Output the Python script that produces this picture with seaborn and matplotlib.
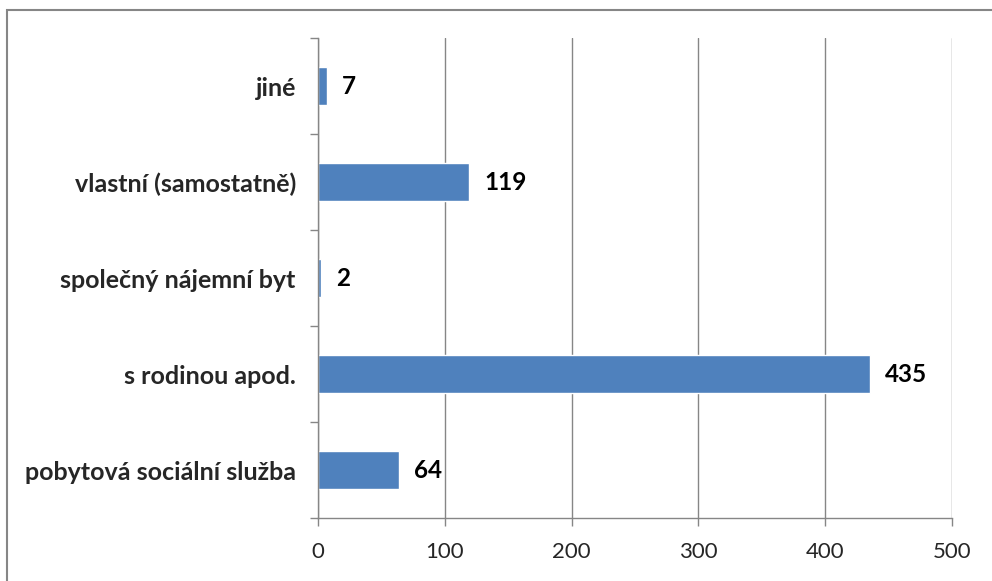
import matplotlib.pyplot as plt
import matplotlib.patches as mpatches
from matplotlib.ticker import FixedLocator, MultipleLocator
import seaborn as sns
import pandas as pd

categories = ["jiné", "vlastní (samostatně)", "společný nájemní byt",
              "s rodinou apod.", "pobytová sociální služba"]
values = [7, 119, 2, 435, 64]

bar_color = "#4F81BD"
grid_color = "#868686"

sns.set_theme(style="white")
plt.rcParams["font.family"] = ["Lato", "DejaVu Sans"]

df = pd.DataFrame({"kategorie": categories, "pocet": values})

fig = plt.figure(figsize=(9.92, 5.81), dpi=100)
ax = fig.add_axes([318 / 992, 1 - 518 / 581, (952 - 318) / 992, (518 - 38) / 581])

sns.barplot(data=df, x="pocet", y="kategorie", orient="h", color=bar_color,
            width=0.39, saturation=1, ax=ax)

ax.set_xlim(0, 500)
ax.set_ylim(4.5, -0.5)
ax.xaxis.set_major_locator(MultipleLocator(100))
ax.grid(axis="x", color=grid_color, linewidth=1)
ax.set_axisbelow(True)
ax.set_xlabel("")
ax.set_ylabel("")

for s in ["top", "right"]:
    ax.spines[s].set_visible(False)
for s in ["left", "bottom"]:
    ax.spines[s].set_color(grid_color)
    ax.spines[s].set_linewidth(1)

ax.tick_params(axis="x", which="major", direction="out", length=6, width=1,
               color=grid_color, labelsize=16, pad=11, bottom=True)
ax.tick_params(axis="y", which="major", length=0, labelsize=18, pad=16)
ax.yaxis.set_minor_locator(FixedLocator([-0.5, 0.5, 1.5, 2.5, 3.5, 4.5]))
ax.tick_params(axis="y", which="minor", direction="out", length=6, width=1,
               color=grid_color, left=True)
for lbl in ax.get_yticklabels():
    lbl.set_fontweight("bold")

for i, v in enumerate(values):
    ax.annotate(str(v), xy=(v, i), xytext=(11, 0), textcoords="offset points",
                ha="left", va="center", fontsize=17.5, fontweight="bold",
                color="black")

fig.patches.append(mpatches.Rectangle((7 / 992, -0.1), 1.2, 1 - 10 / 581 + 0.1,
                                      transform=fig.transFigure, fill=False,
                                      edgecolor=grid_color, linewidth=1.5))

fig.savefig("out.png", dpi=100)
